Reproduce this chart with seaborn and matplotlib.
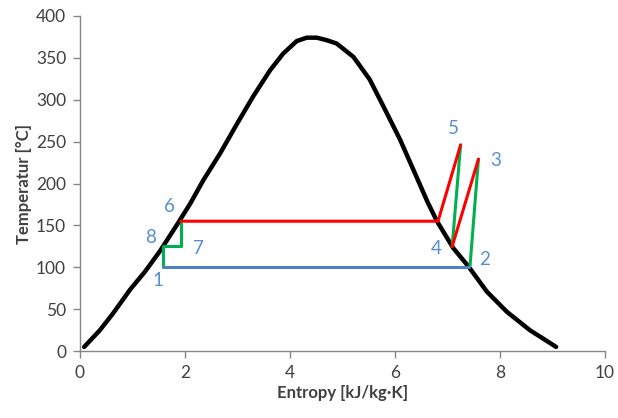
import matplotlib
matplotlib.use("Agg")
import matplotlib.pyplot as plt
import seaborn as sns
import pandas as pd

# Saturation dome (entropy kJ/kg·K, temperature °C)
dome_s = [0.08, 0.38, 0.63, 0.95, 1.24, 1.52, 1.84, 2.10, 2.35, 2.67, 2.98, 3.30,
          3.62, 3.87, 4.13, 4.32, 4.51, 4.70, 4.89, 5.21, 5.52, 5.78, 6.10, 6.41,
          6.62, 6.80, 7.11, 7.40, 7.75, 8.13, 8.57, 9.07]
dome_T = [5, 25, 45, 73, 95, 119, 150, 176, 204, 236, 270, 304,
          335, 355, 370, 374, 374, 371, 367, 351, 324, 292, 252, 208,
          178, 155, 123, 101, 71, 47, 25, 5]

# Cycle segments
blue_s = [1.59, 7.41]
blue_T = [100, 100]

green1_s = [1.92, 1.92, 1.59, 1.59]
green1_T = [155, 125, 125, 100]
green2_s = [7.43, 7.59]
green2_T = [102, 229]
green3_s = [7.09, 7.25]
green3_T = [125, 246]

red1_s = [1.92, 6.82, 7.25]
red1_T = [155, 155, 246]
red2_s = [7.59, 7.09]
red2_T = [229, 125]

point_labels = ["1", "2", "3", "4", "5", "6", "7", "8"]
label_s = [1.48, 7.71, 7.92, 6.79, 7.11, 1.70, 2.25, 1.35]
label_T = [84, 109, 228, 122, 266, 172, 122, 135]

sns.set_style("white")
plt.rcParams['font.family'] = ['Lato', 'DejaVu Sans']

fig = plt.figure(figsize=(6.18, 4.18), dpi=100)
ax = fig.add_axes([0.1294, 0.160, 0.8495, 0.802])

def seg(xs, ys, color, lw):
    df = pd.DataFrame({"s": xs, "T": ys})
    sns.lineplot(data=df, x="s", y="T", sort=False, estimator=None, color=color,
                 linewidth=lw, ax=ax, solid_capstyle="round", solid_joinstyle="round")

seg(dome_s, dome_T, "black", 3.2)
seg(green1_s, green1_T, "#00B050", 2.2)
seg(green2_s, green2_T, "#00B050", 2.2)
seg(green3_s, green3_T, "#00B050", 2.2)
seg(red1_s, red1_T, "#FF0000", 2.2)
seg(red2_s, red2_T, "#FF0000", 2.2)
seg(blue_s, blue_T, "#4F81BD", 2.2)

for t, x, y in zip(point_labels, label_s, label_T):
    ax.text(x, y, t, color="#558ED5", fontsize=13.5, ha="center", va="center")

ax.set_xlim(0, 10)
ax.set_ylim(0, 400)
ax.set_xticks([0, 2, 4, 6, 8, 10])
ax.set_yticks(range(0, 401, 50))
ax.set_xlabel("Entropy [kJ/kg·K]", fontsize=12, fontweight="bold", color="#404040", labelpad=3)
ax.set_ylabel("Temperatur [°C]", fontsize=12, fontweight="bold", color="#404040", labelpad=3)

for side in ["top", "right"]:
    ax.spines[side].set_visible(False)
for side in ["left", "bottom"]:
    ax.spines[side].set_color("#868686")
    ax.spines[side].set_linewidth(1)
ax.tick_params(axis="both", direction="out", length=5, width=1, color="#868686",
               labelcolor="#404040", labelsize=12.5, left=True, bottom=True, pad=5)

fig.savefig("out.png", dpi=100)
